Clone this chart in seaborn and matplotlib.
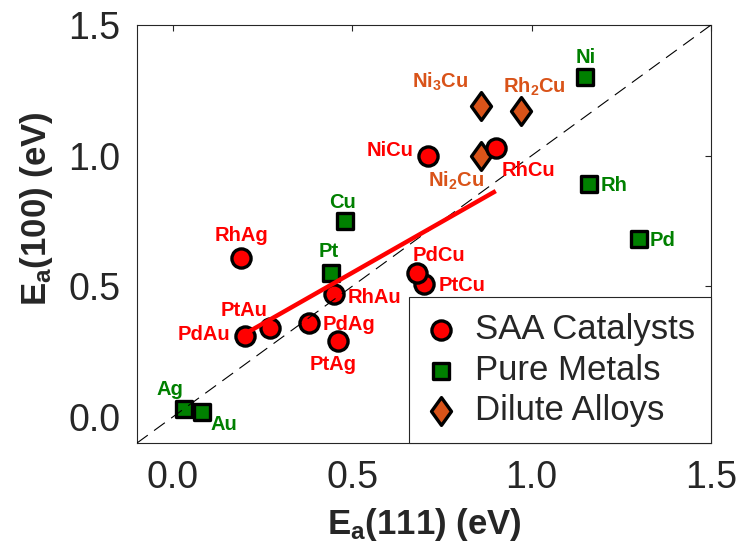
import numpy as np
import pandas as pd
import matplotlib
matplotlib.use("Agg")
import matplotlib.pyplot as plt
from matplotlib.path import Path
import seaborn as sns

# Activation energies on the (111) and (100) facets, eV
saa_names = ["RhAg", "NiCu", "RhCu", "PtCu", "PdCu", "RhAu", "PtAu", "PdAu", "PdAg", "PtAg"]
saa_e111 = [0.19, 0.71, 0.90, 0.70, 0.68, 0.45, 0.27, 0.20, 0.38, 0.46]
saa_e100 = [0.61, 1.00, 1.03, 0.51, 0.55, 0.47, 0.34, 0.31, 0.36, 0.29]

metal_names = ["Ni", "Rh", "Pd", "Cu", "Pt", "Ag", "Au"]
metal_e111 = [1.15, 1.16, 1.30, 0.48, 0.44, 0.03, 0.08]
metal_e100 = [1.30, 0.89, 0.68, 0.75, 0.55, 0.03, 0.02]

alloy_names = [r"Ni$_3$Cu", r"Rh$_2$Cu", r"Ni$_2$Cu"]
alloy_e111 = [0.86, 0.97, 0.86]
alloy_e100 = [1.19, 1.17, 1.00]

tick_values = [0.0, 0.5, 1.0, 1.5]
tick_labels = ["0.0", "0.5", "1.0", "1.5"]

group_labels = ["SAA Catalysts", "Pure Metals", "Dilute Alloys"]

# label placement: (dx, dy) in points from the marker, horizontal alignment
label_offsets = {
    "RhAg": (0, 12, "center"), "NiCu": (-10.5, 0, "right"),
    "RhCu": (23.5, -20, "center"), "PtCu": (10.5, -5, "left"),
    "PdCu": (-3, 8.5, "left"), "RhAu": (9.5, -6.5, "left"),
    "PtAu": (-18.5, 8.5, "center"), "PdAu": (-10, -3, "right"),
    "PdAg": (9.5, -5, "left"), "PtAg": (-3.5, -21, "center"),
    "Ni": (0, 10, "center"), "Rh": (8, -4.5, "left"),
    "Pd": (7.5, -5, "left"), "Cu": (-2, 9.5, "center"),
    "Pt": (-1.5, 11.5, "center"), "Ag": (-10, 10, "center"),
    "Au": (16, -13, "center"),
    r"Ni$_3$Cu": (-29.5, 13, "center"), r"Rh$_2$Cu": (10, 13.5, "center"),
    r"Ni$_2$Cu": (-18.5, -22.5, "center"),
}

RED = "#FF0000"
GREEN = "#008000"
ORANGE = "#D95319"
AXCOL = "#262626"

sns.set_theme(style="white")
plt.rcParams.update({
    "font.family": ["Liberation Sans", "DejaVu Sans"],
    "mathtext.fontset": "custom",
    "mathtext.rm": "Liberation Sans",
    "mathtext.bf": "Liberation Sans:bold",
    "mathtext.it": "Liberation Sans:italic",
    "mathtext.default": "bf",
})

saa = pd.DataFrame({"name": saa_names, "e111": saa_e111, "e100": saa_e100})
metals = pd.DataFrame({"name": metal_names, "e111": metal_e111, "e100": metal_e100})
alloys = pd.DataFrame({"name": alloy_names, "e111": alloy_e111, "e100": alloy_e100})

# tall diamond marker
diamond = Path([(0, 1), (0.72, 0), (0, -1), (-0.72, 0), (0, 1)],
               [Path.MOVETO, Path.LINETO, Path.LINETO, Path.LINETO, Path.CLOSEPOLY])

fig = plt.figure(figsize=(7.41, 5.6), dpi=100)
ax = fig.add_axes([137 / 741, 117 / 560, 574 / 741, 418 / 560])

EDGE_LW = 2.4
sns.scatterplot(data=alloys, x="e111", y="e100", marker=diamond, s=400,
                color=ORANGE, edgecolor="black", linewidth=EDGE_LW, zorder=2,
                label=group_labels[2], ax=ax)
sns.scatterplot(data=metals, x="e111", y="e100", marker="s", s=135,
                color=GREEN, edgecolor="black", linewidth=EDGE_LW, zorder=2,
                label=group_labels[1], ax=ax)
sns.scatterplot(data=saa, x="e111", y="e100", marker="o", s=190,
                color=RED, edgecolor="black", linewidth=EDGE_LW, zorder=3,
                label=group_labels[0], ax=ax)

# linear fit through the single-atom alloys
sns.regplot(data=saa, x="e111", y="e100", scatter=False, ci=None, color=RED,
            line_kws={"lw": 3.2, "zorder": 5, "solid_capstyle": "butt"}, ax=ax)

# parity line
ax.axline((0, 0), slope=1, color="black", lw=0.8, linestyle=(0, (12, 7)), zorder=4)

for df, col in [(saa, RED), (metals, GREEN), (alloys, ORANGE)]:
    for name, xv, yv in zip(df["name"], df["e111"], df["e100"]):
        dx, dy, ha = label_offsets[name]
        ax.annotate(name, (xv, yv), xytext=(dx, dy), textcoords="offset points",
                    ha=ha, va="baseline", fontsize=14.5, fontweight="bold",
                    color=col, zorder=6)

ax.set_xlim(-0.1, 1.5)
ax.set_ylim(-0.1, 1.5)
ax.set_xticks(tick_values)
ax.set_xticklabels(tick_labels)
ax.set_yticks(tick_values)
ax.set_yticklabels(tick_labels)
ax.tick_params(direction="in", length=4.5, width=0.8, top=True, right=True,
               labelsize=27, pad=12, colors=AXCOL)
for sp in ax.spines.values():
    sp.set_visible(True)
    sp.set_color(AXCOL)
    sp.set_linewidth(0.8)

ax.set_xlabel("$E_a$(111) (eV)", fontsize=25, fontweight="bold", color=AXCOL)
ax.set_ylabel("$E_a$(100) (eV)", fontsize=25, fontweight="bold", color=AXCOL)
ax.xaxis.set_label_coords(0.5, -0.151)
ax.yaxis.set_label_coords(-0.143, 0.56)

handles, labels = ax.get_legend_handles_labels()
order = [labels.index(g) for g in group_labels]
leg = ax.legend([handles[i] for i in order], [labels[i] for i in order],
                loc="lower right", borderaxespad=0, fontsize=25, frameon=True,
                fancybox=False, framealpha=1, edgecolor=AXCOL,
                handlelength=0.95, handletextpad=0.5, borderpad=0.45,
                labelspacing=0.22, scatterpoints=1)
leg.get_frame().set_linewidth(0.8)
leg.set_zorder(10)

fig.savefig("out.png", dpi=100)
